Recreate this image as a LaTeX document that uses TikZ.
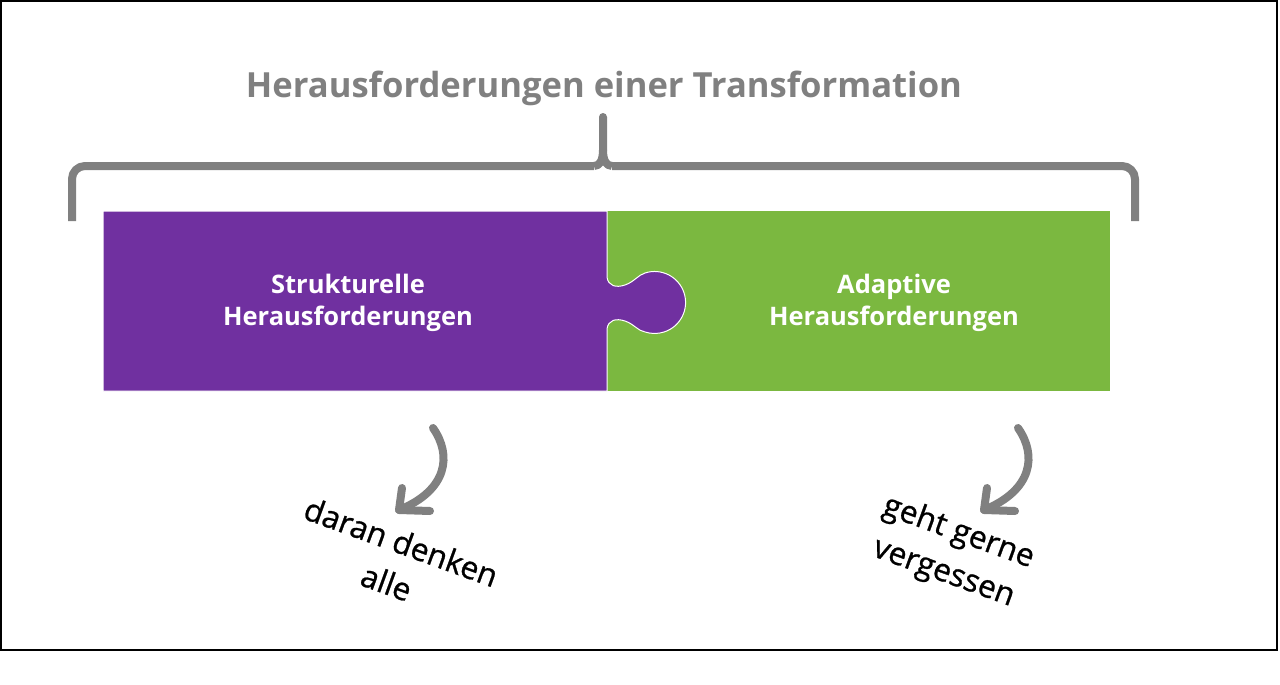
\documentclass[tikz,border=0pt]{standalone}
\usepackage{fontspec}
\setmainfont{Open Sans}
\newfontfamily\handfont[FakeBold=0.8]{Open Sans}
\definecolor{grayc}{RGB}{128,128,128}
\definecolor{purp}{RGB}{112,48,160}
\definecolor{grn}{RGB}{123,184,64}
\begin{document}
\begin{tikzpicture}[x=1pt,y=-1pt,
  title/.style={text=grayc,font=\bfseries\fontsize{34.6}{40}\selectfont,anchor=base,inner sep=0},
  boxtext/.style={text=white,font=\bfseries\fontsize{25.5}{31.5}\selectfont,align=center,inner sep=0},
  hand/.style={text=black,font=\handfont\fontsize{31.5}{43}\selectfont,align=center,inner sep=0,rotate=-20},
  bracestroke/.style={draw=grayc,line width=8,line join=round},
  arrowstroke/.style={draw=grayc,line width=8,line cap=round,line join=round}]
\useasboundingbox (0,0) rectangle (1280,685);
\fill[white] (0,0) rectangle (1280,685);
\draw[line width=2] (1,1) rectangle (1277,650);
% title
\node[title] (title) at (604,98) {Herausforderungen einer Transformation};
% brace
\coordinate (tip) at (603,117);
\draw[bracestroke,rounded corners=13] (72,221) -- (72,166) -- (594,166);
\draw[bracestroke] (594,166) .. controls (600,166) and (603,160) .. (603,150) -- (tip);
\draw[bracestroke,rounded corners=13] (1135,221) -- (1135,166) -- (612,166);
\draw[bracestroke] (612,166) .. controls (606,166) and (603,160) .. (603,150);
\fill[grayc] (tip) circle (4);
% puzzle pieces
\fill[grn] (607,211) rectangle (1110,391);
\path[fill=purp,draw=white,line width=1]
  (103,211) -- (607,211) -- (607,277)
  .. controls (608,286) and (616,288) .. (625,285)
  .. controls (634,282) and (638,275) .. (645,273)
  arc[start angle=-108,end angle=108,radius=31]
  .. controls (638,331) and (634,324) .. (625,321)
  .. controls (616,318) and (608,320) .. (607,329)
  -- (607,391) -- (103,391) -- cycle;
\node[boxtext] (struk) at (348,303) {Strukturelle\\Herausforderungen};
\node[boxtext] (adapt) at (894,303) {Adaptive\\Herausforderungen};
% handwritten notes
\node[hand] (noteL) at (394,562) {daran denken\\alle};
\node[hand] (noteR) at (951,553) {geht gerne\\vergessen};
% arrows
\coordinate (aLs) at (433,428);
\coordinate (aLt) at (399,510);
\coordinate (aRs) at (1018,428);
\coordinate (aRt) at (984,510);
\draw[arrowstroke] (aLs) .. controls (452,455) and (448,490) .. (aLt);
\draw[arrowstroke] (402,488) -- (aLt) -- (430,511);
\draw[arrowstroke] (aRs) .. controls (1037,455) and (1033,490) .. (aRt);
\draw[arrowstroke] (987,488) -- (aRt) -- (1015,511);
\end{tikzpicture}
\end{document}
